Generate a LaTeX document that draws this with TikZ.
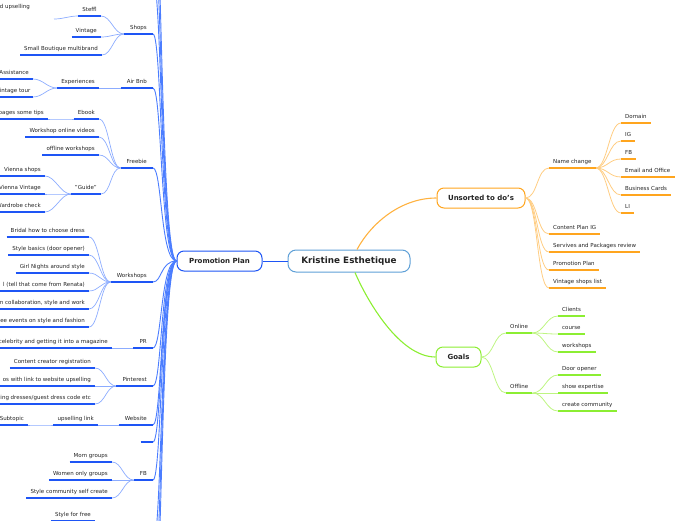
\documentclass[tikz,border=0pt]{standalone}
\usepackage{fontspec}
\setmainfont{DejaVu Sans}
\usepackage{xcolor}
\usepackage{tikz}
\usetikzlibrary{positioning}

\definecolor{txt}{RGB}{35,35,35}
\definecolor{rootline}{RGB}{95,160,215}
\definecolor{bdark}{RGB}{30,85,245}
\definecolor{bmid}{RGB}{75,125,255}
\definecolor{blight}{RGB}{140,172,255}
\definecolor{odark}{RGB}{255,165,30}
\definecolor{olight}{RGB}{255,205,130}
\definecolor{gdark}{RGB}{140,238,50}
\definecolor{glight}{RGB}{190,245,130}

\newcommand{\rootfont}{\fontsize{8.8}{10}\selectfont\bfseries}
\newcommand{\topicfont}{\fontsize{7}{8.5}\selectfont\bfseries}
\newcommand{\leaffont}{\fontsize{5.5}{6.5}\selectfont}

\begin{document}
\begin{tikzpicture}[x=1pt, y=-1pt,
    % Stil für das Zentrum
    root/.style={rectangle, rounded corners=8pt, draw=rootline, line width=1pt, fill=white, minimum width=122pt, minimum height=22pt, font=\rootfont, text=txt},
    % Stil für Hauptthemen
    topic/.style={rectangle, rounded corners=7pt, line width=1pt, fill=white, minimum height=20pt, font=\topicfont, text=txt},
    % Stil für Unterthemen
    sub/.style={inner xsep=4pt, inner ysep=2.7pt, text height=4.2pt, text depth=1.3pt, font=\leaffont, text=txt},
    lt/.style={sub, anchor=south east},
    lone/.style={sub, anchor=south east, inner xsep=6pt},
    rt/.style={sub, anchor=south west},
    % Unterstriche
    bul/.style={draw=bdark, line width=1.3pt},
    oul/.style={draw=odark, line width=1.3pt},
    gul/.style={draw=gdark, line width=1.3pt},
    % Verbindungen
    trunk/.style={draw=bmid, line width=0.9pt, to path={.. controls +(-16,0) and +(9,0) .. (\tikztotarget)}},
    lcurve/.style={draw=blight, line width=0.7pt, to path={.. controls +(-#1,0) and +(#1,0) .. (\tikztotarget)}},
    lcurve/.default=10,
    ocurve/.style={draw=olight, line width=0.8pt, to path={.. controls +(#1,0) and +(-#1,0) .. (\tikztotarget)}},
    ocurve/.default=12,
    gcurve/.style={draw=glight, line width=0.8pt, to path={.. controls +(#1,0) and +(-#1,0) .. (\tikztotarget)}},
    gcurve/.default=12]
    \useasboundingbox (0,0) rectangle (696,520);
    \clip (0,0) rectangle (696,520);

    % Knoten
    \node[root] (kristine) at (349,261) {Kristine Esthetique};
    \node[topic, draw=bdark, minimum width=85pt] (pp) at (219.5,261) {Promotion Plan};
    \node[topic, draw=odark, minimum width=88pt] (unsorted) at (481,198) {Unsorted to do's};
    \node[topic, draw=gdark, minimum width=45pt] (goals) at (458.5,357) {Goals};

    % Promotion Plan, erste Ebene
    \coordinate (top1) at (153,-20);
    \coordinate (top2) at (153,-65);
    \coordinate (top3) at (153,-120);
    \node[lone] (shops) at (153,34) {Shops};
    \node[lone] (airbnb) at (153,88) {Air Bnb};
    \node[lone] (freebie) at (153,168) {Freebie};
    \node[lone] (workshops) at (153,282) {Workshops};
    \node[lone] (pr) at (153,348) {PR};
    \node[lone] (pinterest) at (153,386) {Pinterest};
    \node[lone] (website) at (153,425) {Website};
    \node[lone] (emptyone) at (153,442) {};
    \node[lone] (fb) at (153,480) {FB};
    \coordinate (bot1) at (153,545);
    \coordinate (bot2) at (153,590);
    \coordinate (bot3) at (153,640);

    % Promotion Plan, weitere Ebenen
    \node[lt] (steffl) at (101,16) {Steffl};
    \node[lt, text width=50pt, align=left, text depth=7.3pt] (upsell) at (54,19) {d upselling};
    \node[lt] (vintage) at (101,37) {Vintage};
    \node[lt] (boutique) at (102,55) {Small Boutique multibrand};
    \node[lt] (experiences) at (99,88) {Experiences};
    \node[lt] (assistance) at (33,79) {Assistance};
    \node[lt, inner xsep=2.5pt] (vtour) at (33,97) {intage tour};
    \node[lt] (ebook) at (99,119) {Ebook};
    \node[lt] (tips) at (48,119) {pages some tips};
    \node[lt] (wvideos) at (99,137) {Workshop online videos};
    \node[lt] (offline) at (99,155) {offline workshops};
    \node[lt] (guide) at (101,194) {"Guide"};
    \node[lt] (vshops) at (45,176) {Vienna shops};
    \node[lt] (vvintage) at (45,194) {Vienna Vintage};
    \node[lt] (wardrobe) at (45,212) {Wardrobe check};
    \node[lt] (bridal) at (89,237) {Bridal how to choose dress};
    \node[lt] (basics) at (89,255) {Style basics (door opener)};
    \node[lt] (girls) at (89,273) {Girl Nights around style};
    \node[lt] (renata) at (89,291) {l (tell that come from Renata)};
    \node[lt] (collab) at (89,309) {n collaboration, style and work};
    \node[lt] (events) at (89,327) {ee events on style and fashion};
    \node[lt] (celeb) at (112,348) {celebrity and getting it into a magazine};
    \node[lt] (creator) at (95,368) {Content creator registration};
    \node[lt] (links) at (95,386) {os with link to website upselling};
    \node[lt] (dresses) at (95,404) {ing dresses/guest dress code etc};
    \node[lt] (uplink) at (98,425) {upselling link};
    \node[lt] (subtopic) at (28,425) {Subtopic};
    \node[lt] (mom) at (112,462) {Mom groups};
    \node[lt] (women) at (112,480) {Women only groups};
    \node[lt] (community) at (112,498) {Style community self create};
    \node[lt] (freestyle) at (95,521) {Style for free};

    % Unsorted to do's
    \node[rt] (namechange) at (549,168) {Name change};
    \node[rt] (domain) at (621,123) {Domain};
    \node[rt] (ig) at (621,141) {IG};
    \node[rt] (fbpage) at (621,159) {FB};
    \node[rt] (email) at (621,177) {Email and Office};
    \node[rt] (cards) at (621,195) {Business Cards};
    \node[rt] (li) at (621,213) {LI};
    \node[rt] (contentig) at (549,234) {Content Plan IG};
    \node[rt] (services) at (549,252) {Servives and Packages review};
    \node[rt] (promo) at (549,270) {Promotion Plan};
    \node[rt] (vshoplist) at (549,288) {Vintage shops list};

    % Goals
    \node[rt] (online) at (506,333) {Online};
    \node[rt] (clients) at (558,316) {Clients};
    \node[rt] (course) at (558,334) {course};
    \node[rt] (gworkshops) at (558,352) {workshops};
    \node[rt] (offl) at (506,393) {Offline};
    \node[rt] (door) at (558,375) {Door opener};
    \node[rt] (expertise) at (558,393) {show expertise};
    \node[rt] (gcommunity) at (558,411) {create community};

    % Kanten
    \path[trunk]
      (pp.west) edge (top1)
      (pp.west) edge (top2)
      (pp.west) edge (top3)
      (pp.west) edge (shops.south east)
      (pp.west) edge (airbnb.south east)
      (pp.west) edge (freebie.south east)
      (pp.west) edge (workshops.south east)
      (pp.west) edge (pr.south east)
      (pp.west) edge (pinterest.south east)
      (pp.west) edge (website.south east)
      (pp.west) edge (emptyone.south east)
      (pp.west) edge (fb.south east)
      (pp.west) edge (bot1)
      (pp.west) edge (bot2)
      (pp.west) edge (bot3);

    \path[lcurve]
      (shops.south west) edge (steffl.south east)
      (shops.south west) edge (vintage.south east)
      (shops.south west) edge (boutique.south east)
      (steffl.south west) edge (upsell.south east)
      (airbnb.south west) edge (experiences.south east)
      (experiences.south west) edge (assistance.south east)
      (experiences.south west) edge (vtour.south east)
      (freebie.south west) edge (ebook.south east)
      (freebie.south west) edge (wvideos.south east)
      (freebie.south west) edge (offline.south east)
      (freebie.south west) edge (guide.south east)
      (ebook.south west) edge (tips.south east)
      (guide.south west) edge (vshops.south east)
      (guide.south west) edge (vvintage.south east)
      (guide.south west) edge (wardrobe.south east)
      (workshops.south west) edge (bridal.south east)
      (workshops.south west) edge (basics.south east)
      (workshops.south west) edge (girls.south east)
      (workshops.south west) edge (renata.south east)
      (workshops.south west) edge (collab.south east)
      (workshops.south west) edge (events.south east)
      (pr.south west) edge (celeb.south east)
      (pinterest.south west) edge (creator.south east)
      (pinterest.south west) edge (links.south east)
      (pinterest.south west) edge (dresses.south east)
      (website.south west) edge (uplink.south east)
      (uplink.south west) edge (subtopic.south east)
      (fb.south west) edge (mom.south east)
      (fb.south west) edge (women.south east)
      (fb.south west) edge (community.south east);

    \path[ocurve]
      (unsorted.east) edge (namechange.south west)
      (unsorted.east) edge (contentig.south west)
      (unsorted.east) edge (services.south west)
      (unsorted.east) edge (promo.south west)
      (unsorted.east) edge (vshoplist.south west)
      (namechange.south east) edge (domain.south west)
      (namechange.south east) edge (ig.south west)
      (namechange.south east) edge (fbpage.south west)
      (namechange.south east) edge (email.south west)
      (namechange.south east) edge (cards.south west)
      (namechange.south east) edge (li.south west);

    \path[gcurve]
      (goals.east) edge (online.south west)
      (goals.east) edge (offl.south west)
      (online.south east) edge (clients.south west)
      (online.south east) edge (course.south west)
      (online.south east) edge (gworkshops.south west)
      (offl.south east) edge (door.south west)
      (offl.south east) edge (expertise.south west)
      (offl.south east) edge (gcommunity.south west);

    \draw[draw=bdark, line width=1pt] (pp.east) -- (kristine.west);
    \draw[draw=odark!85, line width=1.1pt] ([xshift=8pt]kristine.north) .. controls +(14,-26) and +(-36,0) .. (unsorted.west);
    \draw[draw=gdark, line width=1.1pt] ([xshift=6pt]kristine.south) .. controls +(12,28) and +(-36,0) .. (goals.west);

    % Unterstriche
    \foreach \n in {shops,airbnb,freebie,workshops,pr,pinterest,website,emptyone,fb,
      steffl,vintage,boutique,experiences,assistance,vtour,ebook,tips,wvideos,offline,
      guide,vshops,vvintage,wardrobe,bridal,basics,girls,renata,collab,events,celeb,
      creator,links,dresses,uplink,subtopic,mom,women,community,freestyle}
      \draw[bul] (\n.south west) -- (\n.south east);
    \foreach \n in {namechange,domain,ig,fbpage,email,cards,li,contentig,services,promo,vshoplist}
      \draw[oul] (\n.south west) -- (\n.south east);
    \foreach \n in {online,clients,course,gworkshops,offl,door,expertise,gcommunity}
      \draw[gul] (\n.south west) -- (\n.south east);
  \end{tikzpicture}
\end{document}
